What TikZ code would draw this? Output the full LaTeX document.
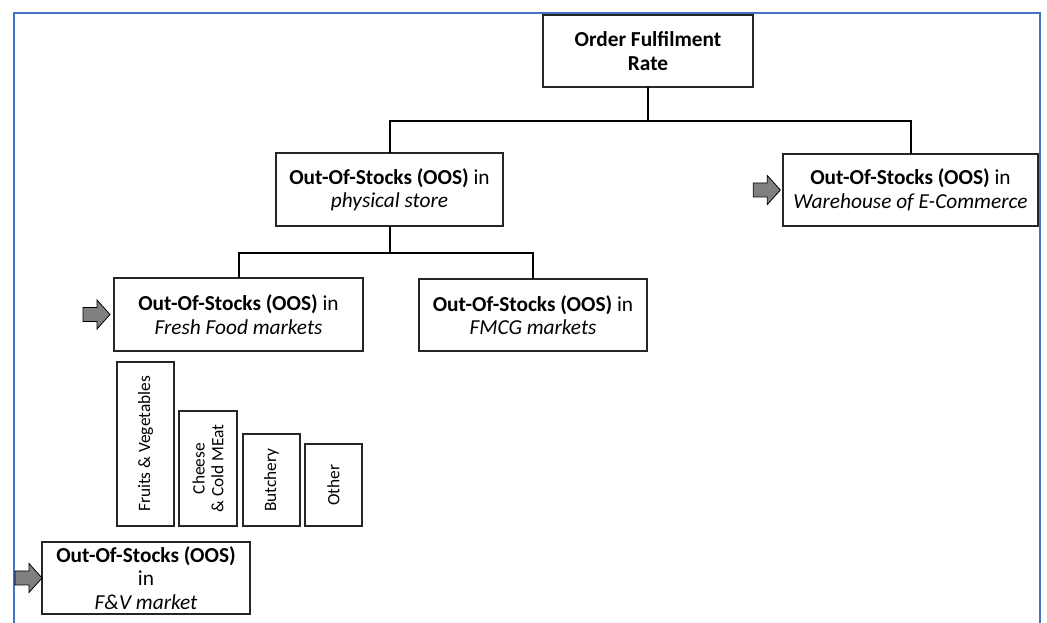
\documentclass[tikz,border=0pt]{standalone}
\usepackage{fontspec}
\setmainfont{Carlito}
\definecolor{frameblue}{RGB}{68,114,196}
\tikzset{
  box/.style={draw=black!85, line width=0.9pt, fill=white, align=center, inner sep=2pt, outer sep=0pt, font=\fontsize{16}{17.5}\selectfont},
  bar/.style={draw=black!85, line width=0.9pt, fill=white, align=center, rotate=90, inner sep=1pt, outer sep=0pt, font=\fontsize{13}{14}\selectfont},
  link/.style={line width=1.5pt},
  blockarr/.pic={\draw[fill=black!50, line width=0.6pt] (0,0) -- (-13,-14.5) -- (-13,-7) -- (-27,-7) -- (-27,7) -- (-13,7) -- (-13,14.5) -- cycle;}
}
\begin{document}
\begin{tikzpicture}[x=0.75pt,y=0.75pt,yscale=-1,xscale=1]
\useasboundingbox (0,0) rectangle (1047,623);

%Frame
\draw [frameblue, line width=1.5pt] (14,623) -- (14,13) -- (1040,13) -- (1040,623);

%Boxes of the tree
\node [box, font=\fontsize{16}{17.5}\selectfont\bfseries, minimum width=157.5pt, minimum height=54pt] (ofr) at (648,51) {Order Fulfilment\\Rate};
\node [box, minimum width=170.25pt, minimum height=54.75pt] (phys) at (389.5,189.5) {\textbf{Out-Of-Stocks (OOS)} in\\\textit{physical store}};
\node [box, minimum width=191.25pt, minimum height=54pt] (wh) at (910.5,190) {\textbf{Out-Of-Stocks (OOS)} in\\\textit{Warehouse of E-Commerce}};
\node [box, minimum width=186.75pt, minimum height=54.75pt] (fresh) at (238.5,314.5) {\textbf{Out-Of-Stocks (OOS)} in\\\textit{Fresh Food markets}};
\node [box, minimum width=171pt, minimum height=54pt] (fmcg) at (533,315) {\textbf{Out-Of-Stocks (OOS)} in\\\textit{FMCG markets}};
\node [box, minimum width=156pt, minimum height=54pt] (fv) at (146,578) {\textbf{Out-Of-Stocks (OOS)}\\in\\\textit{F\&V market}};

%Categories of fresh food
\node [bar, minimum width=123pt, minimum height=42.75pt] (fruits) at (145.5,444) {Fruits \& Vegetables};
\node [bar, minimum width=86.25pt, minimum height=43.5pt] (cheese) at (208,468.5) {Cheese\\\& Cold MEat};
\node [bar, minimum width=69pt, minimum height=42.75pt] (butch) at (271.5,480) {Butchery};
\node [bar, minimum width=61.5pt, minimum height=42.75pt] (other) at (333.5,485) {Other};

%Connectors
\draw [link] (ofr.south) -- ++(0,34) -| (phys.north);
\draw [link] (ofr.south) ++(0,34) -| (wh.north);
\draw [link] (phys.south) -- ++(0,27) -| (fresh.north);
\draw [link] (phys.south) ++(0,27) -| (fmcg.north);

%Block arrows
\pic at ([xshift=-3pt]fresh.west) {blockarr};
\pic at ([xshift=-2pt]wh.west) {blockarr};
\pic at (fv.west) {blockarr};

\end{tikzpicture}
\end{document}
